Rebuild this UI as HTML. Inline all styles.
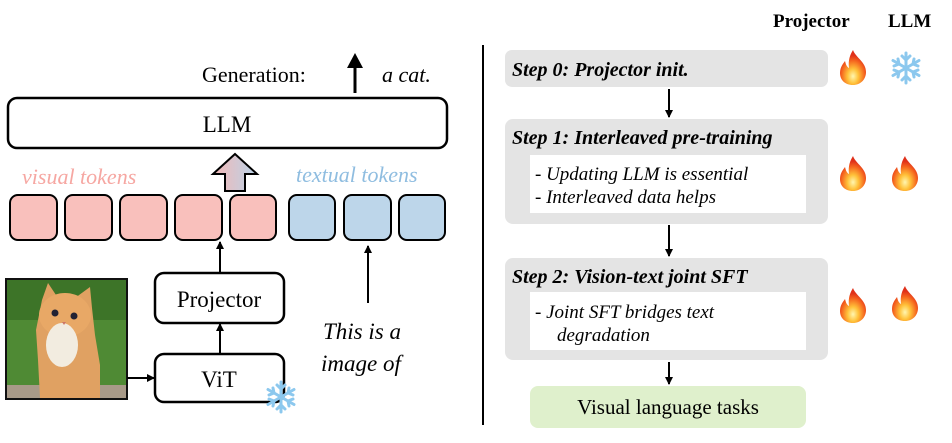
<!DOCTYPE html>
<html><head><meta charset="utf-8"><style>
html,body{margin:0;padding:0;background:#fff;}
svg, svg text{font-family:"Liberation Serif","Noto Serif CJK SC","DejaVu Serif",serif;}
</style></head><body>
<svg width="952" height="438" viewBox="0 0 952 438" xmlns="http://www.w3.org/2000/svg">
<defs>
<marker id="ah" markerWidth="8" markerHeight="8" refX="7" refY="4" orient="auto" markerUnits="userSpaceOnUse">
<path d="M0,0 L8,4 L0,8 z" fill="#000"/></marker>
<linearGradient id="fg" x1="0" x2="1"><stop offset="0" stop-color="#f4b8b6"/><stop offset="1" stop-color="#b9d3e8"/></linearGradient>
<radialGradient id="fire" cx="0.5" cy="0.75" r="0.6"><stop offset="0" stop-color="#fff6b0"/><stop offset="0.35" stop-color="#ffc23a"/><stop offset="0.75" stop-color="#f5641e"/><stop offset="1" stop-color="#e0301a"/></radialGradient>
<g id="flame"><path d="M15,0 C18,8 28,12 28,22 C28,30 22,35 15,35 C7,35 2,30 2,23 C2,17 5,14 7,11 C8,15 9,17 11,18 C10,10 12,5 15,0 z" fill="url(#fire)"/></g>
<g id="snow" stroke="#8cc8ee" stroke-width="3" stroke-linecap="round" fill="none">
<line x1="0" y1="-15" x2="0" y2="15"/><line x1="-13" y1="-7.5" x2="13" y2="7.5"/><line x1="-13" y1="7.5" x2="13" y2="-7.5"/>
<path d="M-4,-12 L0,-8 L4,-12 M-4,12 L0,8 L4,12 M-12,-2 L-7,-4 L-8,-9 M12,2 L7,4 L8,9 M12,-2 L7,-4 L8,-9 M-12,2 L-7,4 L-8,9"/>
</g>
</defs>

<text x="202" y="82" font-size="22">Generation:</text>
<line x1="355" y1="93" x2="355" y2="64" stroke="#000" stroke-width="3"/>
<path d="M347,68 L355,53 L363,68 z" fill="#000"/>
<text x="382" y="82" font-size="22" font-style="italic">a cat.</text>

<rect x="8" y="98" width="439" height="50" rx="9" fill="#fff" stroke="#000" stroke-width="2.5"/>
<text x="227" y="132" font-size="23" text-anchor="middle">LLM</text>

<text x="22" y="184" font-size="22" font-style="italic" fill="#f6a7a2">visual tokens</text>
<text x="296" y="182" font-size="22" font-style="italic" fill="#8fbde0">textual tokens</text>
<path d="M235,154 L257,174 L245,174 L245,191 L225,191 L225,174 L213,174 z" fill="url(#fg)" stroke="#000" stroke-width="2"/>

<g stroke="#000" stroke-width="2">
<rect x="10" y="195" width="47" height="45" rx="8" fill="#f9c0bc"/>
<rect x="65" y="195" width="47" height="45" rx="8" fill="#f9c0bc"/>
<rect x="120" y="195" width="47" height="45" rx="8" fill="#f9c0bc"/>
<rect x="175" y="195" width="47" height="45" rx="8" fill="#f9c0bc"/>
<rect x="230" y="195" width="46" height="45" rx="8" fill="#f9c0bc"/>
<rect x="289" y="195" width="46" height="45" rx="8" fill="#bdd6ea"/>
<rect x="344" y="195" width="47" height="45" rx="8" fill="#bdd6ea"/>
<rect x="399" y="195" width="46" height="45" rx="8" fill="#bdd6ea"/>
</g>

<rect x="6" y="279" width="121" height="120" fill="#4f8a34" stroke="#111" stroke-width="2"/>
<rect x="7" y="280" width="119" height="40" fill="#3d7428"/>
<rect x="7" y="385" width="119" height="13" fill="#a89a88"/>
<path d="M42,300 L48,283 L58,298 L75,298 L90,287 L92,308 L95,335 L100,365 L100,398 L40,398 L38,360 L36,330 z" fill="#e0a162"/>
<ellipse cx="65" cy="315" rx="26" ry="22" fill="#e8a866"/>
<ellipse cx="62" cy="345" rx="16" ry="22" fill="#f2ece0"/>
<circle cx="55" cy="313" r="3.5" fill="#223"/><circle cx="74" cy="316" r="3.5" fill="#223"/>
<path d="M62,322 L66,322 L64,325 z" fill="#c76"/>

<rect x="155" y="273" width="129" height="50" rx="9" fill="#fff" stroke="#000" stroke-width="2.5"/>
<text x="219" y="307" font-size="23" text-anchor="middle">Projector</text>
<rect x="155" y="354" width="129" height="48" rx="9" fill="#fff" stroke="#000" stroke-width="2.5"/>
<text x="219" y="387" font-size="23" text-anchor="middle">ViT</text>
<use href="#snow" transform="translate(281,397)"/>

<g stroke="#000" stroke-width="2" marker-end="url(#ah)">
<line x1="127" y1="378" x2="154" y2="378"/>
<line x1="220" y1="354" x2="220" y2="324"/>
<line x1="220" y1="273" x2="220" y2="242"/>
<line x1="368" y1="303" x2="368" y2="246"/>
</g>
<text x="323" y="339" font-size="23" font-style="italic">This is a</text>
<text x="321" y="371" font-size="23" font-style="italic">image of</text>

<line x1="483" y1="45" x2="483" y2="425" stroke="#000" stroke-width="2"/>

<text x="773" y="27" font-size="19" font-weight="bold">Projector</text>
<text x="888" y="27" font-size="19" font-weight="bold">LLM</text>

<rect x="505" y="50" width="323" height="37" rx="7" fill="#e4e4e4"/>
<text x="512" y="76" font-size="20" font-weight="bold" font-style="italic">Step 0: Projector init.</text>

<rect x="505" y="119" width="323" height="105" rx="8" fill="#e4e4e4"/>
<text x="512" y="144" font-size="20" font-weight="bold" font-style="italic">Step 1: Interleaved pre-training</text>
<rect x="530" y="155" width="276" height="58" fill="#fff"/>
<text x="535" y="180" font-size="19" font-style="italic">-  Updating LLM is essential</text>
<text x="535" y="203" font-size="19" font-style="italic">-  Interleaved data helps</text>

<rect x="505" y="258" width="323" height="102" rx="8" fill="#e4e4e4"/>
<text x="512" y="283" font-size="20" font-weight="bold" font-style="italic">Step 2: Vision-text joint SFT</text>
<rect x="530" y="292" width="276" height="58" fill="#fff"/>
<text x="535" y="318" font-size="19" font-style="italic">-  Joint SFT bridges text</text>
<text x="557" y="341" font-size="19" font-style="italic">degradation</text>

<rect x="530" y="386" width="276" height="42" rx="8" fill="#dff0cc"/>
<text x="668" y="414" font-size="21" text-anchor="middle">Visual language tasks</text>

<g stroke="#000" stroke-width="2" marker-end="url(#ah)">
<line x1="669" y1="89" x2="669" y2="117"/>
<line x1="669" y1="225" x2="669" y2="256"/>
<line x1="669" y1="362" x2="669" y2="384"/>
</g>

<use href="#flame" transform="translate(838,50)"/>
<use href="#snow" transform="translate(906,68)"/>
<use href="#flame" transform="translate(838,156)"/>
<use href="#flame" transform="translate(890,156)"/>
<use href="#flame" transform="translate(838,288)"/>
<use href="#flame" transform="translate(890,286)"/>
</svg>
</body></html>
